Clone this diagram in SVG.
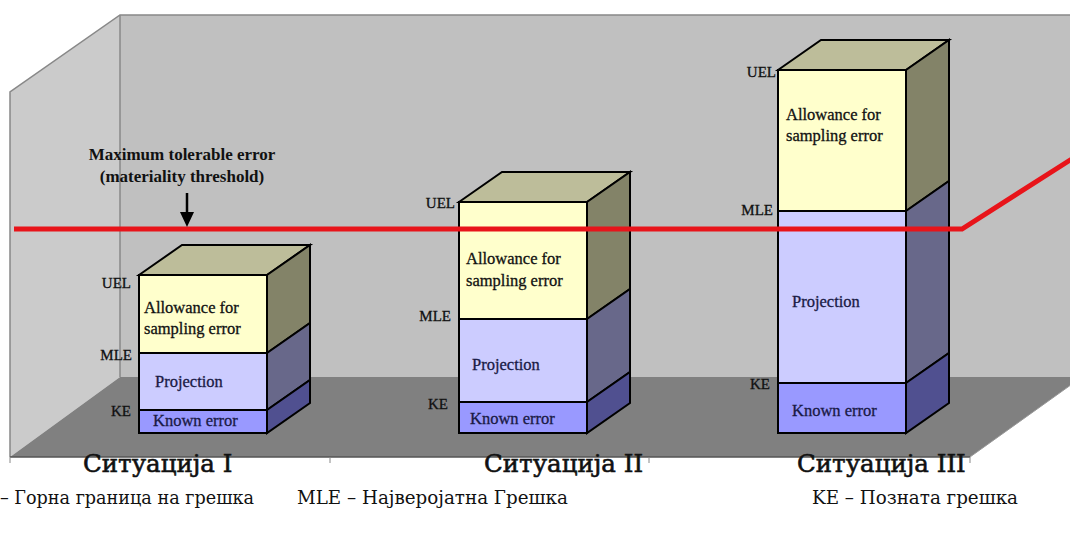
<svg xmlns="http://www.w3.org/2000/svg" width="1070" height="534" viewBox="0 0 1070 534">
<style>
.edge{stroke:#888;stroke-width:1.5;fill:none}
.box{stroke:#000;stroke-width:2;stroke-linejoin:miter}
.top{fill:#bdbd9a}
.sa{fill:#838368}
.sp{fill:#68688a}
.sk{fill:#505090}
.fa{fill:#ffffcc}
.fp{fill:#ccccff}
.fk{fill:#9999ff}
.lbl{fill:#111;text-anchor:end;stroke:#111;stroke-width:0.3}
.in{fill:#111;stroke:#111;stroke-width:0.3}
.inb{fill:#1a1a45;stroke:#1a1a45;stroke-width:0.3}
</style>
<rect width="1070" height="534" fill="#fff"/>
<g id="room">
<polygon points="120,15 1070,15 1070,377 120,377" fill="#c0c0c0"/>
<polygon points="10,92 120,15 120,377 10,457" fill="#cbcbcb"/>
<polygon points="10,457 120,377 1082,377 970,457" fill="#808080"/>
<polyline class="edge" points="10,457 10,92 120,15 1070,15"/>
<line class="edge" x1="120" y1="15" x2="120" y2="377"/>
<line x1="970" y1="457" x2="1082" y2="377" stroke="#999" stroke-width="1"/>
<line x1="10" y1="457" x2="970" y2="457" stroke="#555" stroke-width="1.5"/>
<g stroke="#888" stroke-width="1">
<line x1="10" y1="457" x2="10" y2="463"/>
<line x1="330" y1="457" x2="330" y2="463"/>
<line x1="649" y1="457" x2="649" y2="463"/>
<line x1="970" y1="457" x2="970" y2="463"/>
</g>
</g>
<g font-family="Liberation Serif, serif">
<g id="box1">
<rect class="box fa" x="139" y="275" width="128" height="78"/>
<rect class="box fp" x="139" y="353" width="128" height="57"/>
<rect class="box fk" x="139" y="410" width="128" height="23"/>
<polygon class="box top" points="139,275 182,245 310,245 267,275"/>
<polygon class="box sa" points="267,275 310,245 310,323 267,353"/>
<polygon class="box sp" points="267,353 310,323 310,380 267,410"/>
<polygon class="box sk" points="267,410 310,380 310,403 267,433"/>
<text class="lbl" font-size="15" x="131" y="288">UEL</text>
<text class="lbl" font-size="15" x="132" y="360">MLE</text>
<text class="lbl" font-size="15" x="131" y="416">KE</text>
<text class="in" font-size="16.5" x="144" y="313">Allowance for</text>
<text class="in" font-size="16.5" x="144" y="334">sampling error</text>
<text class="inb" font-size="16.5" x="155" y="387">Projection</text>
<text class="inb" font-size="16.5" x="153" y="426">Known error</text>
</g>
<g id="box2">
<rect class="box fa" x="459" y="202" width="128" height="117"/>
<rect class="box fp" x="459" y="319" width="128" height="83"/>
<rect class="box fk" x="459" y="402" width="128" height="31"/>
<polygon class="box top" points="459,202 502,172 630,172 587,202"/>
<polygon class="box sa" points="587,202 630,172 630,289 587,319"/>
<polygon class="box sp" points="587,319 630,289 630,372 587,402"/>
<polygon class="box sk" points="587,402 630,372 630,403 587,433"/>
<text class="lbl" font-size="15" x="455" y="208">UEL</text>
<text class="lbl" font-size="15" x="451" y="321">MLE</text>
<text class="lbl" font-size="15" x="448" y="409">KE</text>
<text class="in" font-size="16.5" x="466" y="264">Allowance for</text>
<text class="in" font-size="16.5" x="466" y="286">sampling error</text>
<text class="inb" font-size="16.5" x="472" y="370">Projection</text>
<text class="inb" font-size="16.5" x="470" y="424">Known error</text>
</g>
<g id="box3">
<rect class="box fa" x="778" y="70" width="128" height="141"/>
<rect class="box fp" x="778" y="211" width="128" height="172"/>
<rect class="box fk" x="778" y="383" width="128" height="50"/>
<polygon class="box top" points="778,70 821,40 949,40 906,70"/>
<polygon class="box sa" points="906,70 949,40 949,181 906,211"/>
<polygon class="box sp" points="906,211 949,181 949,353 906,383"/>
<polygon class="box sk" points="906,383 949,353 949,403 906,433"/>
<text class="lbl" font-size="15" x="776" y="77">UEL</text>
<text class="lbl" font-size="15" x="773" y="215">MLE</text>
<text class="lbl" font-size="15" x="770" y="389">KE</text>
<text class="in" font-size="16.5" x="786" y="120">Allowance for</text>
<text class="in" font-size="16.5" x="786" y="141">sampling error</text>
<text class="inb" font-size="16.5" x="792" y="307">Projection</text>
<text class="inb" font-size="16.5" x="792" y="416">Known error</text>
</g>
</g>
<g id="connectors">
<polyline points="14,229 962,229 1078,155" fill="none" stroke="#e8141a" stroke-width="5"/>
<line x1="187" y1="193" x2="187" y2="214" stroke="#000" stroke-width="2.5"/>
<polygon points="180,212 194,212 187,227" fill="#000"/>
</g>
<g id="threshold" font-family="Liberation Serif, serif" font-size="17" font-weight="bold" fill="#111" text-anchor="middle">
<text x="182" y="160">Maximum tolerable error</text>
<text x="182" y="182">(materiality threshold)</text>
</g>
<g id="captions" font-family="DejaVu Serif, serif" fill="#111">
<g stroke="#111" stroke-width="0.6">
<text font-size="24.5" x="83" y="472">Ситуација I</text>
<text font-size="24.5" x="484" y="472">Ситуација II</text>
<text font-size="24.5" x="797" y="472">Ситуација III</text>
</g>
<text font-size="17.6" x="254" y="504" text-anchor="end">UEL – Горна граница на грешка</text>
<text font-size="18.3" x="297" y="504">MLE – Најверојатна Грешка</text>
<text font-size="18.3" x="812" y="504">KE – Позната грешка</text>
</g>
</svg>
